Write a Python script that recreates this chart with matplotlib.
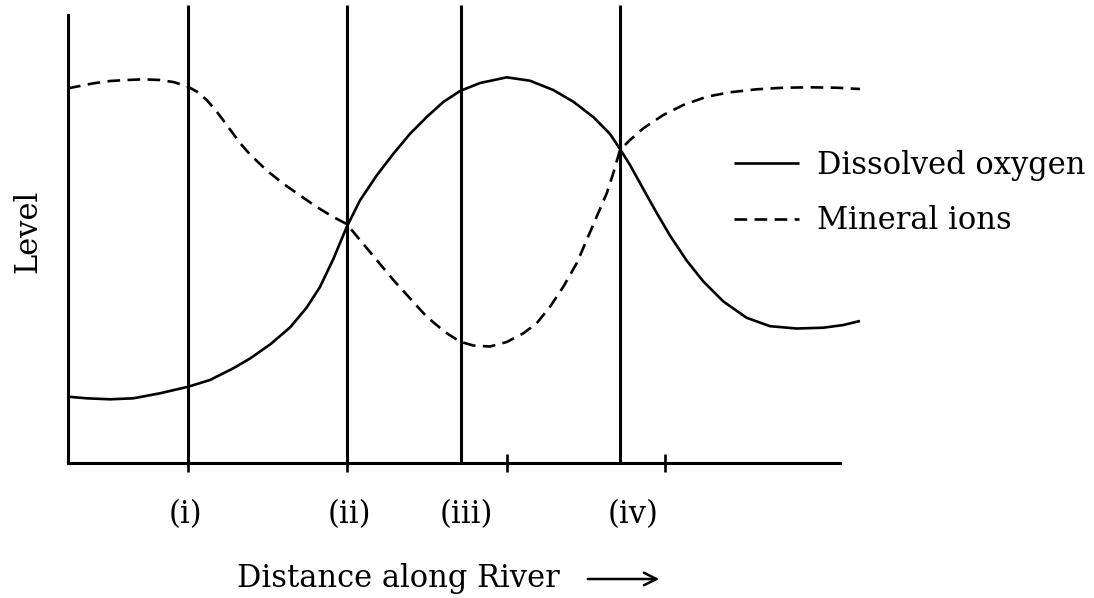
import matplotlib
matplotlib.use("Agg")
import matplotlib.pyplot as plt
from matplotlib.patches import FancyArrowPatch

# ---- data (distance along river 0..100, level 0..100) ----
oxygen_x = [0, 2.42, 5.44, 8.46, 11.92, 15.58, 18.39, 21.41, 23.58, 26.17, 28.76, 30.92,
            32.64, 34.37, 36.10, 37.82, 39.99, 42.14, 44.30, 46.46, 48.61, 50.78, 53.37,
            56.83, 59.84, 62.86, 65.45, 68.04, 70.21, 71.50, 72.80, 74.52, 76.26, 77.98,
            80.14, 82.29, 84.88, 87.91, 90.93, 94.39, 97.84, 100.43, 102.59]
oxygen_y = [14.80, 14.44, 14.22, 14.44, 15.56, 17.03, 18.53, 21.14, 23.33, 26.45, 30.25,
            34.71, 39.29, 45.54, 52.68, 58.62, 64.20, 69.02, 73.48, 77.23, 80.58, 83.04,
            84.82, 86.09, 85.33, 83.26, 80.65, 77.23, 73.44, 70.09, 66.52, 61.16, 55.80,
            50.76, 45.18, 40.54, 36.07, 32.41, 30.54, 30.02, 30.20, 30.80, 31.70]

ions_x = [0, 1.55, 3.28, 5.44, 7.60, 9.75, 11.92, 13.64, 15.38, 16.67, 17.97, 19.26, 20.56,
          22.28, 23.58, 25.74, 27.89, 30.05, 32.22, 34.37, 36.10, 37.82, 39.99, 42.14,
          44.30, 46.46, 48.83, 50.78, 52.50, 54.66, 56.83, 58.98, 60.71, 62.44, 64.16,
          65.89, 67.19, 68.48, 69.78, 70.63, 71.50, 72.80, 74.52, 77.11, 79.70, 82.73,
          85.75, 89.21, 92.66, 96.11, 99.57, 102.59]
ions_y = [83.64, 84.15, 84.75, 85.27, 85.49, 85.65, 85.49, 85.04, 84.15, 82.92, 81.03,
          78.46, 75.45, 71.43, 68.86, 65.31, 62.34, 59.73, 57.14, 54.91, 53.35, 49.78,
          45.31, 40.85, 36.76, 32.66, 29.24, 27.08, 26.23, 26.00, 27.01, 28.95, 31.18,
          34.89, 39.35, 44.58, 49.78, 54.98, 60.20, 64.67, 69.87, 72.10, 74.71, 77.68,
          79.91, 81.76, 82.75, 83.42, 83.77, 83.86, 83.77, 83.48]

site_lines = [15.54, 36.14, 50.91, 71.50]
tick_positions = [15.54, 36.14, 56.87, 77.33]
site_labels = ["(i)", "(ii)", "(iii)", "(iv)"]
site_label_x = [15.2, 36.5, 51.6, 73.2]

series_names = ["Dissolved oxygen", "Mineral ions"]
x_label = "Distance along River"
y_label = "Level"

plt.rcParams['font.family'] = ['DejaVu Serif']
FS = 22

fig = plt.figure(figsize=(10.94, 5.98), dpi=100)
ax = fig.add_axes([68/1094, 135/598, 812/1094, 463/598])
ax.set_xlim(0, 105.18)
ax.set_ylim(0, 103.35)

lw_axis = 2.2
ax.vlines(site_lines, 0, 102.2, color='black', lw=lw_axis)

ax.plot(oxygen_x, oxygen_y, color='black', lw=1.9, solid_capstyle='butt',
        solid_joinstyle='round', label=series_names[0])
ax.plot(ions_x, ions_y, color='black', lw=1.9, linestyle=(0, (4.8, 2.8)),
        dash_capstyle='butt', label=series_names[1])

for s in ['top', 'right']:
    ax.spines[s].set_visible(False)
ax.spines['left'].set_bounds(0, 100)
ax.spines['bottom'].set_bounds(0, 100)
ax.spines['left'].set_linewidth(lw_axis)
ax.spines['bottom'].set_linewidth(lw_axis)

ax.set_yticks([])
ax.set_xticks(tick_positions)
ax.set_xticklabels([])
ax.tick_params(axis='x', direction='inout', length=13, width=1.9, color='black')

for lab, xx in zip(site_labels, site_label_x):
    ax.text(xx, -11.5, lab, fontsize=FS, ha='center', va='center')

ax.set_ylabel(y_label, fontsize=FS, labelpad=18)
fig.text(398/1094, 1 - 578/598, x_label, fontsize=FS, ha='center', va='center')
fig.add_artist(FancyArrowPatch(
    (585/1094, 1 - 579/598), (662/1094, 1 - 579/598), transform=fig.transFigure,
    arrowstyle='->,head_length=6,head_width=3', lw=1.8, color='black',
    mutation_scale=1.5))

ax.legend(loc='upper left', bbox_to_anchor=(734/1094, 1 - 150/598),
          bbox_transform=fig.transFigure, frameon=False, fontsize=FS,
          handlelength=2.12, handletextpad=0.59, labelspacing=0.80,
          borderaxespad=0, borderpad=0)

fig.savefig("out.png", dpi=100)
